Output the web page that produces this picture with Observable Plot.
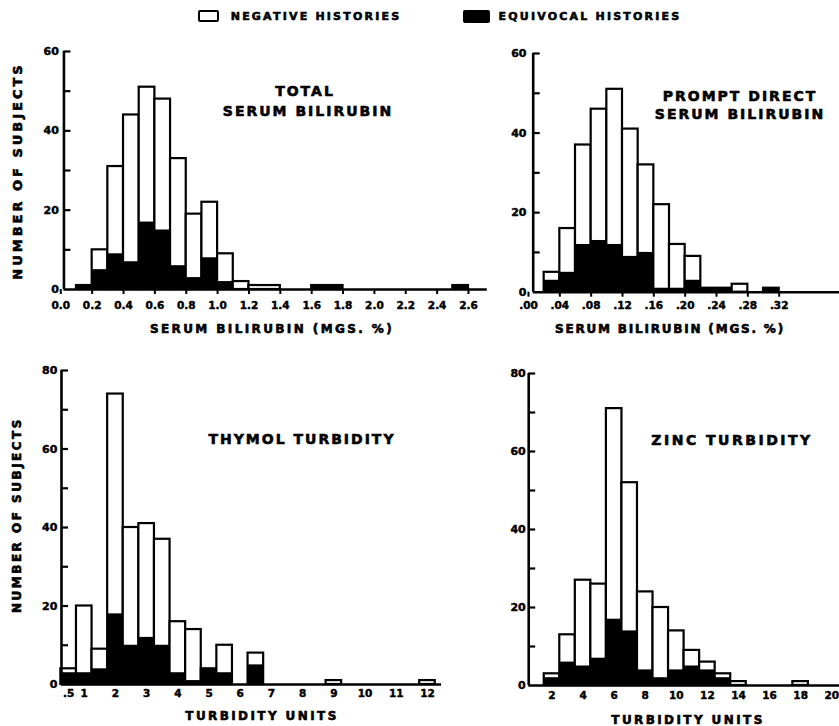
<!DOCTYPE html>
<html><head><meta charset="utf-8">
<script src="https://cdn.jsdelivr.net/npm/d3@7"></script>
<script src="https://cdn.jsdelivr.net/npm/@observablehq/plot@0.6"></script>
<style>
body{margin:0;background:#fff;}
#chart{position:relative;width:839px;height:726px;overflow:hidden;background:#fff;font-family:"DejaVu Sans",sans-serif;font-weight:bold;color:#000;}
.lbl{position:absolute;white-space:nowrap;line-height:1;transform:translate(-50%,-50%);-webkit-text-stroke:0.6px #000;}
.rot{transform:translate(-50%,-50%) rotate(-90deg);}
.panel{position:absolute;}
.panel text{stroke:#000;stroke-width:0.45px;}
.sw{position:absolute;box-sizing:border-box;border-radius:2px;}
</style></head><body><div id="chart"></div>
<script>
// ---------- legend ----------
const seriesNames = ["NEGATIVE HISTORIES", "EQUIVOCAL HISTORIES"];

// ---------- Total serum bilirubin (mgs. %) ----------
const totalBiliStart = [0.1, 0.2, 0.3, 0.4, 0.5, 0.6, 0.7, 0.8, 0.9, 1.0, 1.1, 1.2, 1.6, 2.5];
const totalBiliEnd   = [0.2, 0.3, 0.4, 0.5, 0.6, 0.7, 0.8, 0.9, 1.0, 1.1, 1.2, 1.4, 1.8, 2.6];
const totalBiliAll   = [1, 10, 31, 44, 51, 48, 33, 19, 22, 9, 2, 1, 1, 1];
const totalBiliEquiv = [1, 5, 9, 7, 17, 15, 6, 3, 8, 2, 0, 0, 1, 1];
const totalBiliTicks = [0, 0.2, 0.4, 0.6, 0.8, 1.0, 1.2, 1.4, 1.6, 1.8, 2.0, 2.2, 2.4, 2.6];
const totalBiliTickLabels = ["0.0","0.2","0.4","0.6","0.8","1.0","1.2","1.4","1.6","1.8","2.0","2.2","2.4","2.6"];

// ---------- Prompt direct serum bilirubin (mgs. %) ----------
const directBiliStart = [0.02, 0.04, 0.06, 0.08, 0.10, 0.12, 0.14, 0.16, 0.18, 0.20, 0.22, 0.26, 0.30];
const directBiliEnd   = [0.04, 0.06, 0.08, 0.10, 0.12, 0.14, 0.16, 0.18, 0.20, 0.22, 0.26, 0.28, 0.32];
const directBiliAll   = [5, 16, 37, 46, 51, 41, 32, 22, 12, 9, 1, 2, 1];
const directBiliEquiv = [3, 5, 12, 13, 12, 9, 10, 1, 1, 3, 1, 0, 1];
const directBiliTicks = [0, 0.04, 0.08, 0.12, 0.16, 0.20, 0.24, 0.28, 0.32];
const directBiliTickLabels = [".00",".04",".08",".12",".16",".20",".24",".28",".32"];

// ---------- Thymol turbidity (units), bins of 0.5 ----------
const thymolCenter = [0.5, 1, 1.5, 2, 2.5, 3, 3.5, 4, 4.5, 5, 5.5, 6.5, 9, 12];
const thymolAll    = [4, 20, 9, 74, 40, 41, 37, 16, 14, 4, 10, 8, 1, 1];
const thymolEquiv  = [3, 3, 4, 18, 10, 12, 10, 3, 1, 4, 3, 5, 0, 0];
const thymolBinWidth = 0.5;
const thymolTicks = [0.5, 1, 2, 3, 4, 5, 6, 7, 8, 9, 10, 11, 12];
const thymolTickLabels = [".5","1","2","3","4","5","6","7","8","9","10","11","12"];

// ---------- Zinc turbidity (units), bins of 1 ----------
const zincCenter = [2, 3, 4, 5, 6, 7, 8, 9, 10, 11, 12, 13, 14, 18];
const zincAll    = [3, 13, 27, 26, 71, 52, 24, 20, 14, 9, 6, 3, 1, 1];
const zincEquiv  = [2, 6, 5, 7, 17, 14, 4, 2, 4, 5, 4, 2, 0, 0];
const zincBinWidth = 1;
const zincTicks = [2, 4, 6, 8, 10, 12, 14, 16, 18, 20];
const zincTickLabels = ["2","4","6","8","10","12","14","16","18","20"];

// ---------- y axes ----------
const yLabels60 = [0, 20, 40, 60];
const yMinor60  = [10, 30, 50];
const yLabels80 = [0, 20, 40, 60, 80];
const yMinor80  = [10, 30, 50, 70];

const chart = document.getElementById("chart");

function drawPanel(c) {
  const rows = c.start.map((s, i) => ({x1: s, x2: c.end[i], all: c.all[i], equiv: c.equiv[i]}));
  const [d0, d1] = c.xDomain;
  const unitsPerPx = (d1 - d0) / (c.W - c.mL - c.mR);
  const tickLen = 7 * unitsPerPx;
  const tickMap = new Map(c.xTicks.map((v, i) => [v, c.xLabels[i]]));
  const yMax = c.yLabels[c.yLabels.length - 1];
  const svg = Plot.plot({
    width: c.W, height: c.H,
    marginLeft: c.mL, marginRight: c.mR, marginTop: c.mT, marginBottom: c.mB,
    x: {domain: c.xDomain},
    y: {domain: [0, yMax]},
    style: {fontFamily: "DejaVu Sans", fontWeight: "bold", fontSize: "10px", background: "transparent", overflow: "visible", color: "black"},
    marks: [
      Plot.rectY(rows.filter(d => d.all > 0), {x1: "x1", x2: "x2", y: "all", fill: "white", stroke: "black", strokeWidth: 2.2}),
      Plot.rectY(rows.filter(d => d.equiv > 0), {x1: "x1", x2: "x2", y: "equiv", fill: "black"}),
      Plot.ruleY([0], {x1: c.axisAt, x2: d1, stroke: "black", strokeWidth: 2.6}),
      Plot.ruleX([c.axisAt], {y1: 0, y2: yMax, stroke: "black", strokeWidth: 2.6}),
      Plot.ruleY([...c.yLabels, ...c.yMinor].filter(v => v > 0), {y: d => d, x1: c.axisAt, x2: c.axisAt + tickLen, stroke: "black", strokeWidth: 2.2}),
      Plot.axisY({ticks: c.yLabels, tickSize: 0, tickPadding: c.yPad, fontSize: 11, fill: "black"}),
      Plot.axisX({ticks: c.xTicks, tickFormat: d => tickMap.get(d), tickSize: c.xTickSize, tickPadding: c.xPad, strokeWidth: 2, fontSize: 10.5, fill: "black", stroke: "black"})
    ]
  });
  svg.classList.add("panel");
  svg.style.left = c.L + "px";
  svg.style.top = c.T + "px";
  chart.appendChild(svg);
}

drawPanel({start: totalBiliStart, end: totalBiliEnd, all: totalBiliAll, equiv: totalBiliEquiv,
  xTicks: totalBiliTicks, xLabels: totalBiliTickLabels, yLabels: yLabels60, yMinor: yMinor60,
  L: 0, T: 40, W: 495, H: 300, xDomain: [0, 2.72], mL: 60.3, mR: 8.2, mT: 11, mB: 51,
  axisAt: 0.02, xTickSize: 5, xPad: 7, yPad: 2});

drawPanel({start: directBiliStart, end: directBiliEnd, all: directBiliAll, equiv: directBiliEquiv,
  xTicks: directBiliTicks, xLabels: directBiliTickLabels, yLabels: yLabels60, yMinor: yMinor60,
  L: 495, T: 40, W: 344, H: 300, xDomain: [0, 0.397], mL: 33, mR: 0, mT: 13, mB: 48.3,
  axisAt: 0.006, xTickSize: 5, xPad: 4, yPad: 2});

drawPanel({start: thymolCenter.map(v => v - thymolBinWidth / 2), end: thymolCenter.map(v => v + thymolBinWidth / 2),
  all: thymolAll, equiv: thymolEquiv,
  xTicks: thymolTicks, xLabels: thymolTickLabels, yLabels: yLabels80, yMinor: yMinor80,
  L: 0, T: 360, W: 495, H: 366, xDomain: [0.2, 12.45], mL: 58.8, mR: 54, mT: 10, mB: 42,
  axisAt: 0.27, xTickSize: 0, xPad: 5, yPad: 2});

drawPanel({start: zincCenter.map(v => v - zincBinWidth / 2), end: zincCenter.map(v => v + zincBinWidth / 2),
  all: zincAll, equiv: zincEquiv,
  xTicks: zincTicks, xLabels: zincTickLabels, yLabels: yLabels80, yMinor: yMinor80,
  L: 495, T: 360, W: 344, H: 366, xDomain: [0.5, 20.5], mL: 33.2, mR: 0, mT: 13, mB: 41,
  axisAt: 0.5, xTickSize: 0, xPad: 6, yPad: 3});

// ---------- text ----------
function label(text, x, y, size, spacing, rotate) {
  const d = document.createElement("div");
  d.className = "lbl" + (rotate ? " rot" : "");
  d.textContent = text;
  d.style.left = x + "px";
  d.style.top = y + "px";
  d.style.fontSize = size + "px";
  d.style.letterSpacing = spacing + "px";
  chart.appendChild(d);
}
function swatch(x, y, w, h, filled) {
  const d = document.createElement("div");
  d.className = "sw";
  Object.assign(d.style, {left: x + "px", top: y + "px", width: w + "px", height: h + "px",
    border: "2.5px solid black", background: filled ? "black" : "white"});
  chart.appendChild(d);
}

swatch(198, 10, 21, 12, false);
label(seriesNames[0], 316, 16, 11, 2.2);
swatch(463, 10, 27, 13, true);
label(seriesNames[1], 590, 16, 11, 2.2);

label("TOTAL", 305, 91, 14, 2);
label("SERUM BILIRUBIN", 308, 111, 14, 2);
label("PROMPT DIRECT", 740, 96, 14, 2);
label("SERUM BILIRUBIN", 740, 114, 14, 2);
label("THYMOL TURBIDITY", 302, 439, 14, 2);
label("ZINC TURBIDITY", 732, 440, 14, 2.5);

label("SERUM BILIRUBIN (MGS. %)", 272, 329, 12, 2.4);
label("SERUM BILIRUBIN (MGS. %)", 670, 329, 12, 1.8);
label("TURBIDITY UNITS", 262, 716, 12, 2.4);
label("TURBIDITY UNITS", 688, 720, 12, 2.4);

label("NUMBER OF SUBJECTS", 17, 171, 13, 3, true);
label("NUMBER OF SUBJECTS", 17, 515, 12, 2.5, true);
</script>
</body></html>
